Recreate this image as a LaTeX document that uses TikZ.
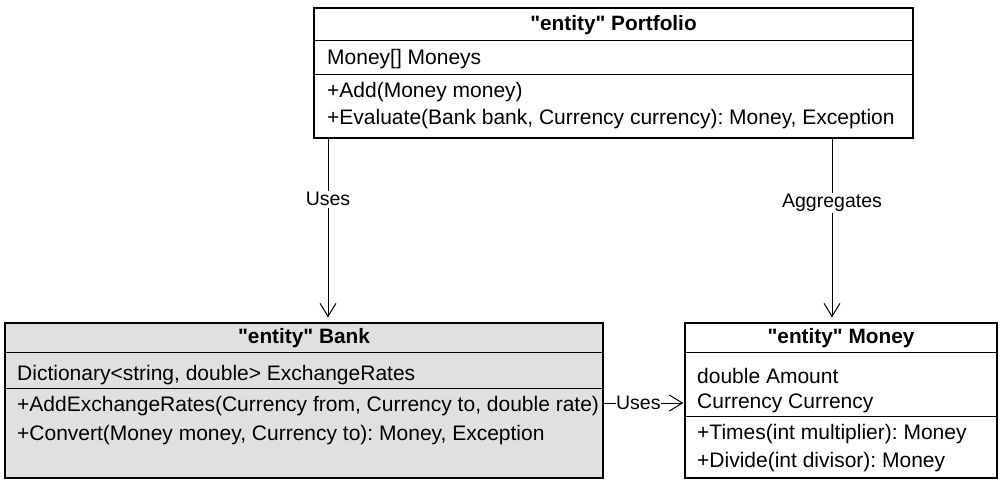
\documentclass[tikz,border=0pt]{standalone}
\usepackage{fontspec}
\setmainfont{Liberation Sans}[Ligatures=TeXOff]
\usetikzlibrary{arrows.meta}
\frenchspacing

\definecolor{bankgray}{HTML}{E0E0E0}

\begin{document}
\begin{tikzpicture}[x=1pt,y=-1pt,
    classbox/.style={draw, line width=1.4pt, inner sep=0pt},
    member/.style={anchor=west, inner sep=0pt, yshift=-1.5pt, font=\fontsize{21}{24}\selectfont},
    title/.style={inner sep=0pt, yshift=-1.5pt, font=\fontsize{20.8}{24}\selectfont\bfseries},
    rel/.style={draw, line width=1pt, -{Straight Barb[length=13pt,width=16pt,line width=1pt]}},
    rellabel/.style={fill=white, inner sep=1.5pt, font=\fontsize{19.5}{23}\selectfont}]
    \useasboundingbox (0,0) rectangle (1004,488);
    % portfolio
    \node[classbox, minimum width=599pt, minimum height=130pt] (portfolio) at (613.5,73) {};
    \node[title] at (613.5,24) {"entity" Portfolio};
    \draw[line width=1pt] (314,40) -- (913,40);
    \draw[line width=1pt] (314,74) -- (913,74);
    \node[member] at (327,58) {Money[] Moneys};
    \node[member] at (327,91) {+Add(Money money)};
    \node[member] at (327,118) {+Evaluate(Bank bank, Currency currency): Money, Exception};
    % bank
    \node[classbox, fill=bankgray, minimum width=598pt, minimum height=155pt] (bank) at (304,400.5) {};
    \node[title] at (304,337) {"entity" Bank};
    \draw[line width=1pt] (5,352) -- (603,352);
    \draw[line width=1pt] (5,388) -- (603,388);
    \node[member] at (17,374) {Dictionary<string, double> ExchangeRates};
    \node[member] at (17,405) {+AddExchangeRates(Currency from, Currency to, double rate)};
    \node[member] at (17,434) {+Convert(Money money, Currency to): Money, Exception};
    % money
    \node[classbox, minimum width=312pt, minimum height=155pt] (money) at (841,400.5) {};
    \node[title] at (841,337) {"entity" Money};
    \draw[line width=1pt] (685,352) -- (997,352);
    \draw[line width=1pt] (685,416) -- (997,416);
    \node[member] at (697,374) {double Amount};
    \node[member] at (697,402) {Currency Currency};
    \node[member] at (697,433) {+Times(int multiplier): Money};
    \node[member] at (697,461) {+Divide(int divisor): Money};
    % relations
    \draw[rel, shorten >=5pt] (portfolio.south west -| 328,0) -- node[rellabel, pos=0.33] {Uses} (bank.north -| 328,0);
    \draw[rel, shorten >=5pt] (portfolio.south west -| 832,0) -- node[rellabel, pos=0.35] {Aggregates} (money.north -| 832,0);
    \draw[rel, shorten >=1pt] (bank.east |- 0,403) -- node[rellabel, pos=0.43, inner sep=0.5pt] {Uses} (money.west |- 0,403);
\end{tikzpicture}
\end{document}
